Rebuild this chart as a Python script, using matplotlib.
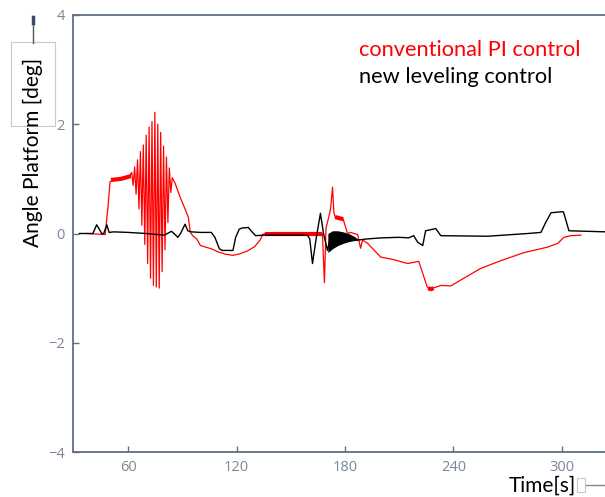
import matplotlib
matplotlib.use("Agg")
import matplotlib.pyplot as plt
from matplotlib.patches import Rectangle
from matplotlib.lines import Line2D

# conventional PI control (red)
pi_t = [37.3, 47.3, 48.9, 50.0, 52.0, 55.0, 58.0, 61.0,
        62.0, 62.8, 63.6, 64.4, 65.2, 66.0, 66.8, 67.6, 68.4, 69.2, 70.0, 70.8,
        71.6, 72.4, 73.2, 74.0, 74.8, 75.6, 76.4, 77.2, 78.0, 78.8, 79.6, 80.4,
        81.2, 82.0, 82.8, 83.6, 84.4,
        86.0, 88.8, 91.5, 93.3, 94.4, 96.0, 98.0, 100.0, 103.0, 106.0, 110.0,
        114.0, 118.0, 122.0, 126.0, 130.0, 133.0, 134.5, 135.5, 150.0, 167.5,
        168.6, 169.5, 171.0, 172.0, 173.1, 173.8, 174.5, 179.0, 181.4, 183.0,
        187.0, 188.6, 189.7, 192.5, 199.7, 207.0, 214.7, 220.8, 225.5, 227.0,
        233.0, 238.5, 245.7, 255.0, 266.0, 279.0, 292.0, 297.8, 301.0, 305.0, 310.5]
pi_y = [0.0, -0.02, 0.5, 0.95, 0.98, 1.0, 1.0, 1.05,
        1.12, 0.88, 1.22, 0.72, 1.35, 0.45, 1.50, 0.15, 1.62, -0.20, 1.80, -0.55,
        1.95, -0.82, 2.05, -0.95, 2.22, -0.98, 2.00, -1.00, 1.85, -0.70, 1.60, -0.30,
        1.40, 0.20, 1.20, 0.75, 1.02,
        0.92, 0.66, 0.45, 0.30, 0.02, -0.05, -0.10, -0.22, -0.25, -0.28, -0.34,
        -0.38, -0.40, -0.37, -0.32, -0.24, -0.12, -0.02, 0.0, 0.0, 0.0,
        -0.90, 0.10, 0.30, 0.45, 0.85, 0.40, 0.30, 0.26, 0.0, 0.02,
        -0.02, -0.27, -0.12, -0.18, -0.43, -0.48, -0.55, -0.51, -0.98, -1.02,
        -0.95, -0.96, -0.82, -0.64, -0.50, -0.35, -0.25, -0.18, -0.07, -0.04, -0.03]

# thick (noisy) pieces of the red curve
pi_noise_t = [[50.5, 56.0, 61.5], [135.5, 150.0, 167.5], [174.5, 177.0, 179.0], [226.0, 227.5, 229.0]]
pi_noise_y = [[0.98, 1.0, 1.05], [0.0, 0.0, 0.0], [0.30, 0.28, 0.26], [-1.0, -1.02, -1.0]]

# new leveling control (black)
lev_t = [33.0, 40.5, 42.6, 45.4, 46.5, 48.2, 49.5, 52.0, 60.0, 70.0, 80.0, 84.0,
         86.0, 87.5, 89.0, 91.5, 93.0, 95.0, 100.0, 106.0, 108.0, 110.5, 112.0,
         118.0, 119.5, 121.5, 123.0, 126.5, 128.0, 130.5, 135.0, 159.2, 160.5,
         162.0, 164.0, 166.4, 168.1, 170.3, 172.0, 175.0, 180.0, 185.0, 187.0,
         192.0, 200.0, 210.0, 215.2, 218.0, 220.2, 223.0, 224.6, 230.2, 233.0,
         259.0, 281.2, 288.4, 291.0, 294.0, 300.6, 301.0, 303.9, 324.4]
lev_y = [0.0, 0.0, 0.16, 0.0, 0.0, 0.16, 0.02, 0.03, 0.02, 0.0, -0.03, 0.04,
         -0.02, -0.07, 0.0, 0.17, 0.05, 0.03, 0.02, 0.02, -0.07, -0.28, -0.31,
         -0.31, -0.07, 0.08, 0.10, 0.11, 0.05, -0.04, -0.03, -0.03, -0.1,
         -0.55, -0.1, 0.37, 0.0, -0.31, -0.05, -0.1, -0.08, -0.1, -0.12,
         -0.1, -0.08, -0.07, -0.08, -0.04, -0.16, -0.22, 0.05, 0.09, -0.04,
         -0.05, 0.0, 0.02, 0.2, 0.38, 0.40, 0.38, 0.05, 0.03]

# dense oscillation of the black curve after 170 s (envelope)
blob_t = [170.5, 173.0, 176.0, 179.0, 182.0, 185.0, 187.0]
blob_hi = [0.0, 0.05, 0.05, 0.03, 0.0, -0.05, -0.1]
blob_lo = [-0.35, -0.28, -0.22, -0.18, -0.15, -0.13, -0.12]

x_ticks = [60, 120, 180, 240, 300]
y_ticks = [-4, -2, 0, 2, 4]

spine_col = '#5f6f86'
tick_col = '#7a879a'

fig = plt.figure(figsize=(6.05, 4.97), dpi=100)
ax = fig.add_axes([73/605, 45/497, 533/605, 437/497])

ax.plot(pi_t, pi_y, color='red', lw=0.9)
for tt, yy in zip(pi_noise_t, pi_noise_y):
    ax.plot(tt, yy, color='red', lw=3.0, solid_capstyle='butt')
ax.plot(lev_t, lev_y, color='black', lw=1.0)
ax.fill_between(blob_t, blob_lo, blob_hi, color='black', lw=0)

ax.set_xlim(29.5, 324.4)
ax.set_ylim(-4, 4)
ax.set_xticks(x_ticks)
ax.set_yticks(y_ticks)
ax.spines['right'].set_visible(False)
for s in ['left', 'bottom', 'top']:
    ax.spines[s].set_color(spine_col)
    ax.spines[s].set_linewidth(1.3)
ax.tick_params(direction='in', length=4, width=1, color=spine_col,
               labelcolor=tick_col, labelsize=10.5, pad=6)
for lab in ax.get_xticklabels() + ax.get_yticklabels():
    lab.set_fontfamily('Open Sans')

# legend-like text
fig.text(359/605, 1 - 50/497, 'conventional PI control', color='red',
         fontsize=15.7, family='Lato', va='center', ha='left')
fig.text(359/605, 1 - 77/497, 'new leveling control', color='black',
         fontsize=15.7, family='Lato', va='center', ha='left')

# axis labels
fig.text(33/605, 1 - 152/497, 'Angle Platform [deg]', rotation=90,
         fontsize=15, family='Lato', va='center', ha='center')
fig.text(542/605, 1 - 486/497, 'Time[s]', fontsize=15, family='Lato',
         va='center', ha='center')

# little leftover widgets around the labels
fig.patches.append(Rectangle((11/605, 1 - 126/497), 44/605, 84/497,
                             transform=fig.transFigure, fill=False,
                             ec='#c8c8c8', lw=0.8))
fig.lines.append(Line2D([33/605, 33/605], [1 - 16/497, 1 - 43/497],
                        transform=fig.transFigure, color='#555555', lw=1))
fig.lines.append(Line2D([33/605, 33/605], [1 - 17/497, 1 - 23/497],
                        transform=fig.transFigure, color='#3a4a66', lw=2.5))
fig.patches.append(Rectangle((577/605, 1 - 492/497), 8/605, 14/497,
                             transform=fig.transFigure, fill=False,
                             ec='#c8c8c8', lw=0.8))
fig.lines.append(Line2D([586/605, 605/605], [1 - 485/497, 1 - 485/497],
                        transform=fig.transFigure, color='#888888', lw=1))

plt.savefig('out.png', dpi=100)
